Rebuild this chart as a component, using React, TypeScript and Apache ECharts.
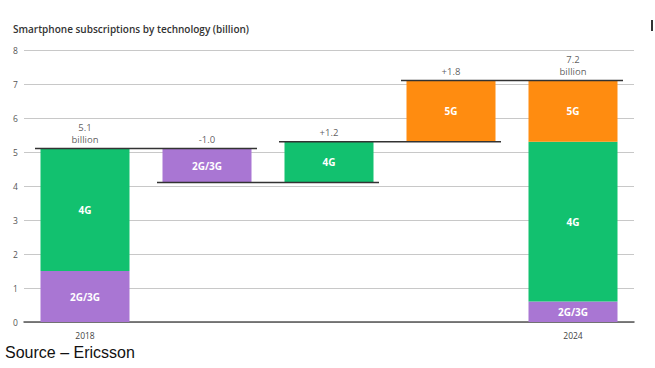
import React, { useEffect, useRef } from "react";
import * as echarts from "echarts";

const categories = ["2018", "", "", "", "2024"];
const baseValues = [0, 4.1, 4.1, 5.3, 0];
const legacyValues: (number | string)[] = [1.5, 1.0, "-", "-", 0.6];
const lteValues: (number | string)[] = [3.6, "-", 1.2, "-", 4.7];
const nrValues: (number | string)[] = ["-", "-", "-", 1.8, 1.8];
const topValues = [5.1, 5.1, 5.3, 7.1, 7.1];
const topLabels = ["5.1\nbillion", "-1.0", "+1.2", "+1.8", "7.2\nbillion"];
// connectors: [fromCategory, toCategory, value]
const connectors = [
  [0, 1, 5.1],
  [1, 2, 4.1],
  [2, 3, 5.3],
  [3, 4, 7.1],
];
const yTicks = [0, 8, 1];

const FONT = "'Open Sans', 'Noto Sans', sans-serif";

export default function App() {
  const ref = useRef<HTMLDivElement>(null);
  useEffect(() => {
    if (!ref.current) return;
    const chart = echarts.init(ref.current, undefined, { renderer: "svg" });
    const innerLabel = (text: string) => ({
      show: true,
      position: "inside" as const,
      formatter: (p: any) => (p.value === "-" ? "" : text),
      color: "#fff",
      fontWeight: "bold" as const,
      fontSize: 10,
      fontFamily: FONT,
    });
    chart.setOption({
      animation: false,
      textStyle: { fontFamily: FONT },
      grid: { left: 24, right: 21, top: 50, bottom: 46 },
      graphic: [
        {
          type: "text",
          left: 13,
          top: 24,
          style: {
            text: "Smartphone subscriptions by technology (billion)",
            fontSize: 10,
            fontWeight: 600,
            fill: "#333",
            fontFamily: FONT,
          },
        },
        {
          type: "text",
          left: 5,
          top: 344,
          style: {
            text: "Source \u2013 Ericsson",
            fontSize: 16,
            fill: "#111",
            fontFamily: "'Liberation Sans', Arial, sans-serif",
          },
        },
        {
          type: "rect",
          shape: { x: 651, y: 20, width: 2, height: 11 },
          style: { fill: "#333" },
        },
      ],
      xAxis: {
        type: "category",
        data: categories,
        axisTick: { show: false },
        axisLine: { lineStyle: { color: "#555", width: 1.5 } },
        axisLabel: { color: "#444", fontSize: 8.5, margin: 9, fontFamily: FONT },
      },
      yAxis: {
        type: "value",
        min: yTicks[0],
        max: yTicks[1],
        interval: yTicks[2],
        axisLabel: { color: "#555", fontSize: 8.5, margin: 11, align: "left", fontFamily: FONT },
        splitLine: { lineStyle: { color: "#c8c8c8", width: 1 } },
        axisLine: { show: false },
        axisTick: { show: false },
      },
      series: [
        {
          type: "bar",
          stack: "s",
          data: baseValues,
          barWidth: 89,
          itemStyle: { color: "transparent" },
          silent: true,
        },
        {
          type: "bar",
          stack: "s",
          name: "2G/3G",
          data: legacyValues,
          barWidth: 89,
          itemStyle: { color: "#A976D3" },
          label: innerLabel("2G/3G"),
        },
        {
          type: "bar",
          stack: "s",
          name: "4G",
          data: lteValues,
          barWidth: 89,
          itemStyle: { color: "#12C16F" },
          label: innerLabel("4G"),
        },
        {
          type: "bar",
          stack: "s",
          name: "5G",
          data: nrValues,
          barWidth: 89,
          itemStyle: { color: "#FF8C10" },
          label: innerLabel("5G"),
        },
        {
          type: "custom",
          data: connectors,
          z: 10,
          renderItem: (params: any, api: any) => {
            const from = api.value(0);
            const to = api.value(1);
            const v = api.value(2);
            const half = 44.5;
            const over = 5.5;
            const p1 = api.coord([from, v]);
            const p2 = api.coord([to, v]);
            return {
              type: "line",
              shape: { x1: p1[0] - half - over, y1: p1[1], x2: p2[0] + half + over, y2: p2[1] },
              style: { stroke: "#333", lineWidth: 1.5 },
            };
          },
        },
        {
          type: "scatter",
          data: topValues,
          symbolSize: 0,
          silent: true,
          label: {
            show: true,
            position: "top",
            distance: 3,
            formatter: (p: any) => topLabels[p.dataIndex],
            color: "#333",
            fontSize: 9.5,
            lineHeight: 12,
            fontFamily: FONT,
          },
        },
      ],
    });
    return () => chart.dispose();
  }, []);
  return (
    <div
      ref={ref}
      style={{ position: "fixed", left: 0, top: 0, width: 655, height: 368, background: "#fff" }}
    />
  );
}
